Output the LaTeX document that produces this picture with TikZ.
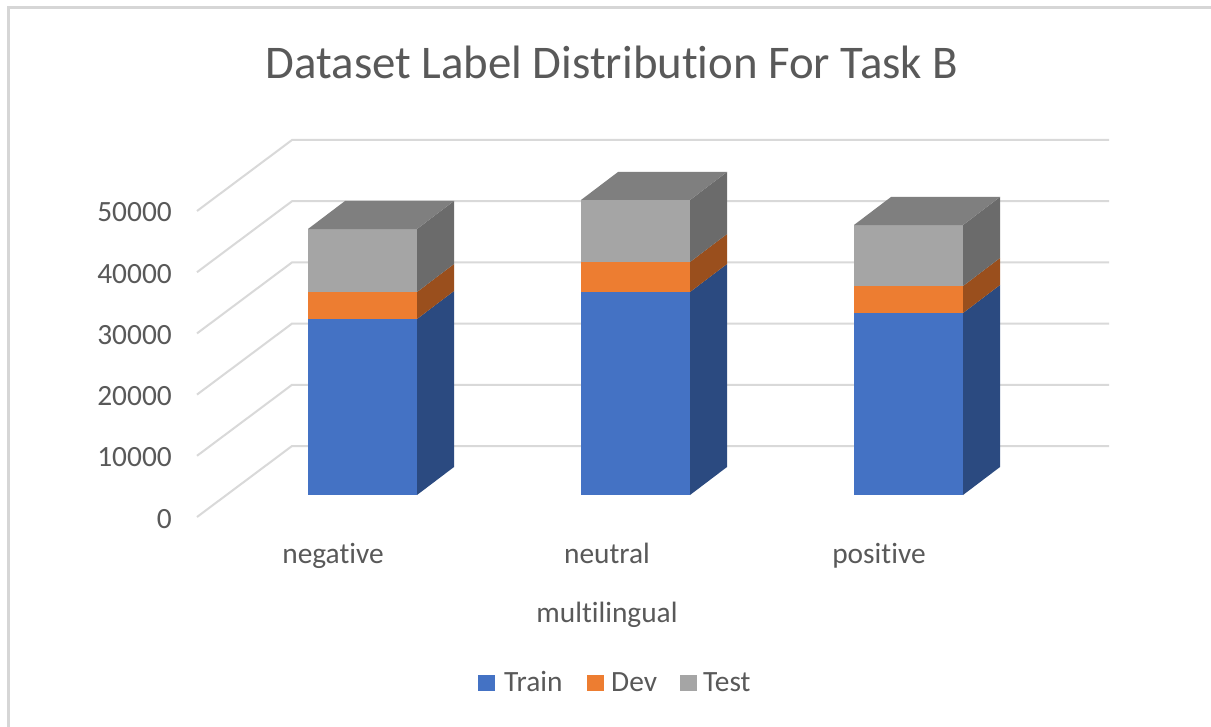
\documentclass[tikz,border=0pt]{standalone}
\usepackage{fontspec}
\setmainfont{Carlito}[Ligatures={NoCommon}]
\definecolor{txt}{HTML}{595959}
\definecolor{gridc}{HTML}{D9D9D9}
\definecolor{frame}{HTML}{D6D6D6}
\definecolor{trainF}{HTML}{4472C4}
\definecolor{trainS}{HTML}{2B4A80}
\definecolor{devF}{HTML}{ED7D31}
\definecolor{devS}{HTML}{9A4F1D}
\definecolor{testF}{HTML}{A5A5A5}
\definecolor{testS}{HTML}{6B6B6B}
\definecolor{testT}{HTML}{7F7F7F}
\newcommand\mybar[4]{%
  \pgfmathsetmacro\R{#1+109}%
  \pgfmathsetmacro\yA{495-#2}%
  \pgfmathsetmacro\yB{495-#3}%
  \pgfmathsetmacro\yC{495-#4}%
  \fill[trainF] (#1,495) rectangle (\R,\yA);
  \fill[trainS] (\R,495) -- ++(37,-28) -- (\R+37,\yA-28) -- (\R,\yA) -- cycle;
  \fill[devF] (#1,\yA) rectangle (\R,\yB);
  \fill[devS] (\R,\yA) -- ++(37,-28) -- (\R+37,\yB-28) -- (\R,\yB) -- cycle;
  \fill[testF] (#1,\yB) rectangle (\R,\yC);
  \fill[testS] (\R,\yB) -- ++(37,-28) -- (\R+37,\yC-28) -- (\R,\yC) -- cycle;
  \fill[testT] (#1,\yC) -- (\R,\yC) -- ++(37,-28) -- (#1+37,\yC-28) -- cycle;
}
\begin{document}
\begin{tikzpicture}[x=1bp,y=-1bp,
  lbl/.style={text=txt,font=\fontsize{29.5}{34}\selectfont,inner sep=0pt},
  gridline/.style={draw=gridc,line width=2bp},
  legsq/.style={inner sep=0pt,minimum width=17bp,minimum height=16bp}]
\useasboundingbox[fill=white] (0,0) rectangle (1211,727);
\draw[frame,line width=3bp] (8,727) -- (8,8) -- (1211,8);
% title
\node[text=txt,font=\fontsize{47}{55}\selectfont,inner sep=0pt,anchor=base] (title) at (612,79) {Dataset Label Distribution For Task B};
% gridlines and tick labels
\foreach \v/\lab in {0/0,1/10000,2/20000,3/30000,4/40000,5/50000}{
  \pgfmathsetmacro\yb{446-61.2*\v}
  \draw[gridline] (197,\yb+71) -- (292,\yb) -- (1109,\yb);
  \node[lbl,anchor=base east] (tick\v) at (172,\yb+82) {\lab};
}
% bars
\mybar{308}{176}{203}{266}
\mybar{581}{203}{233}{295}
\mybar{854}{182}{209}{270}
% category labels
\node[lbl,anchor=base] (cneg) at (333,563) {negative};
\node[lbl,anchor=base] (cneu) at (607,563) {neutral};
\node[lbl,anchor=base] (cpos) at (879,563) {positive};
\node[lbl,anchor=base] (axis) at (607,622) {multilingual};
% legend
\node[legsq,fill=trainF] (sqtrain) at (486.5,683) {};
\node[lbl,anchor=base west] (ltrain) at (504,691) {Train};
\node[legsq,fill=devF] (sqdev) at (595.5,683) {};
\node[lbl,anchor=base west] (ldev) at (611,691) {Dev};
\node[legsq,fill=testF] (sqtest) at (688.5,683) {};
\node[lbl,anchor=base west] (ltest) at (703,691) {Test};
\end{tikzpicture}
\end{document}
